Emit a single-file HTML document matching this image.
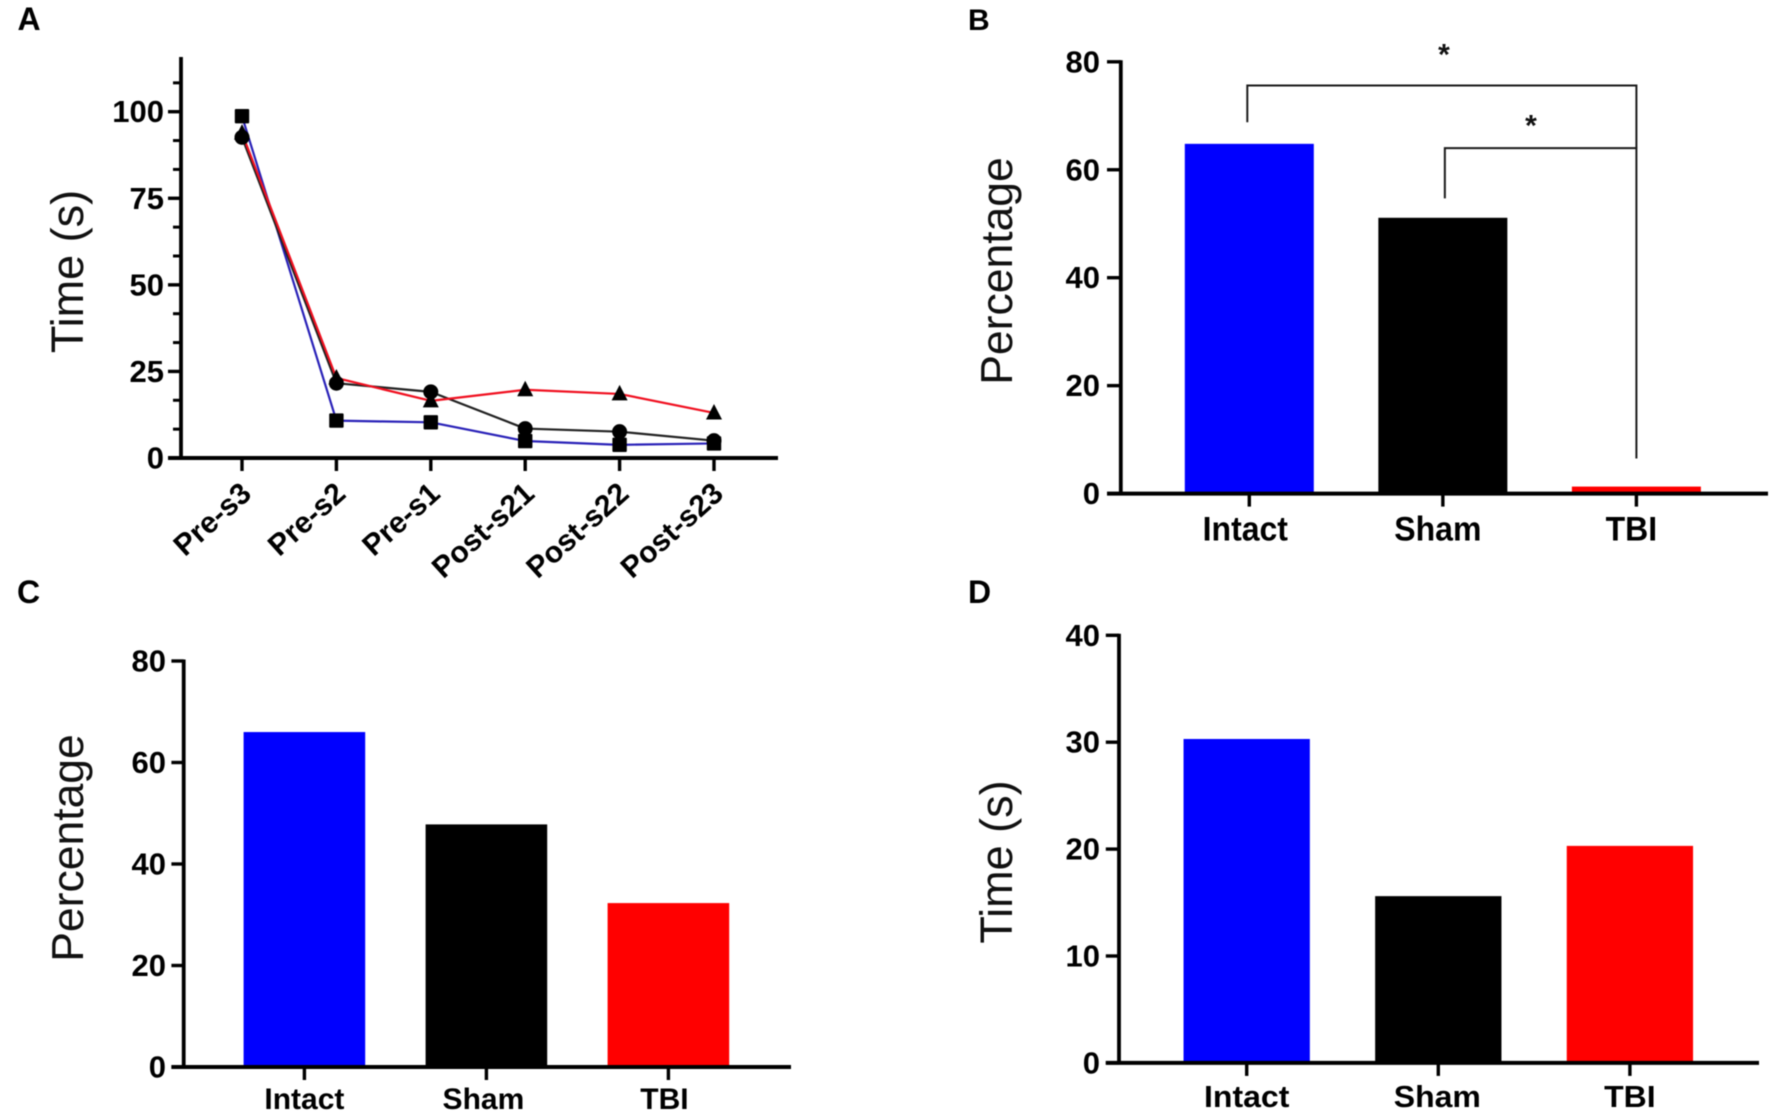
<!DOCTYPE html>
<html lang="en">
<head>
<meta charset="utf-8">
<title>Behavioral test results, panels A to D</title>
<style>
  html, body { margin: 0; padding: 0; background: #fff; }
  body { width: 1772px; height: 1115px; overflow: hidden; }
  svg { display: block; font-family: "Liberation Sans", sans-serif; filter: blur(0.4px); }
  .tick { font-weight: 700; font-size: 31px; fill: #000; }
  .title { font-weight: 400; font-size: 44.5px; fill: #111; }
  .time-title { font-weight: 400; font-size: 45px; fill: #111; }
  .letter { font-weight: 700; fill: #000; }
</style>
</head>
<body>
<svg id="figure" xmlns="http://www.w3.org/2000/svg" width="1772" height="1115" viewBox="0 0 1772 1115">
  <rect width="1772" height="1115" fill="#fff"/>
  <text class="letter" x="17.5" y="30" font-size="32">A</text>
  <text class="letter" x="968" y="30" font-size="30">B</text>
  <text class="letter" x="17" y="603" font-size="32">C</text>
  <text class="letter" x="968" y="603" font-size="32">D</text>
  <text class="time-title" text-anchor="middle" transform="translate(83 271.5) rotate(-90)">Time (s)</text>
  <text class="title" text-anchor="middle" transform="translate(1012 271) rotate(-90)">Percentage</text>
  <text class="title" text-anchor="middle" transform="translate(83 848) rotate(-90)">Percentage</text>
  <text class="time-title" text-anchor="middle" transform="translate(1012 862) rotate(-90)">Time (s)</text>
</svg>
<script>
// ---- Panel A data ----
const sessionLabels = ['Pre-s3', 'Pre-s2', 'Pre-s1', 'Post-s21', 'Post-s22', 'Post-s23'];
const intactTimes = [98.7, 10.8, 10.3, 4.9, 3.8, 4.2];
const shamTimes = [92.6, 21.6, 19.1, 8.5, 7.6, 5.0];
const tbiTimes = [93.8, 23.1, 16.5, 19.7, 18.5, 13.0];
const panelATicks = [0, 25, 50, 75, 100];
const panelAMinorTicks = [8.33, 16.67, 33.33, 41.67, 58.33, 66.67, 83.33, 91.67, 108.33];

// ---- Bar panels data ----
const groupLabels = ['Intact', 'Sham', 'TBI'];
const barColors = ['#0000ff', '#000000', '#ff0000'];
const panelBValues = [64.8, 51.1, 1.3];
const panelBTicks = [0, 20, 40, 60, 80];
const panelCValues = [66.0, 47.8, 32.3];
const panelCTicks = [0, 20, 40, 60, 80];
const panelDValues = [30.3, 15.6, 20.3];
const panelDTicks = [0, 10, 20, 30, 40];

const svg = document.getElementById('figure');
const NS = 'http://www.w3.org/2000/svg';

function make(tag, attrs, parent) {
  const el = document.createElementNS(NS, tag);
  for (const k in attrs) el.setAttribute(k, attrs[k]);
  (parent || svg).appendChild(el);
  return el;
}
function linearScale(v0, px0, v1, px1) {
  return v => px0 + (v - v0) * (px1 - px0) / (v1 - v0);
}
function bandScale(first, step) {
  return i => first + i * step;
}
function drawLine(parent, name, x1, y1, x2, y2, width, color) {
  const el = make('line', { x1, y1, x2, y2, stroke: color || '#000', 'stroke-width': width }, parent);
  
  
  return el;
}
function drawYAxis(parent, axisX, axisTopY, axisBottomY, tickLeftX, labelRightX, y, ticks, minorTicks) {
  drawLine(parent, 'y-axis-line', axisX, axisTopY, axisX, axisBottomY, 3.8);
  ticks.forEach(t => {
    drawLine(parent, 'y-axis-tick', tickLeftX, y(t), axisX, y(t), 3.4);
    const label = make('text', { class: 'tick', x: labelRightX, y: y(t) + 10.5, 'text-anchor': 'end' }, parent);
    
    
    label.textContent = t;
  });
  (minorTicks || []).forEach(t => {
    drawLine(parent, 'y-axis-minor-tick', tickLeftX + 5, y(t), axisX, y(t), 3);
  });
}
function drawXAxisLine(parent, x1, x2, axisY) {
  drawLine(parent, 'x-axis-line', x1, axisY, x2, axisY, 4);
}
function drawBarPanel(name, values, ticks, o) {
  const g = make('g', {});
  
  
  const y = linearScale(0, o.baseY, ticks[ticks.length - 1], o.topY);
  const x = bandScale(o.firstX, o.stepX);
  values.forEach((v, i) => {
    const bar = make('rect', {
      x: x(i) - o.barW / 2, y: y(v), width: o.barW, height: o.baseY - y(v), fill: barColors[i]
    }, g);
    
    
  });
  drawYAxis(g, o.axisX, o.topY - 1.5, o.baseY, o.tickLeftX, o.labelRightX, y, ticks);
  drawXAxisLine(g, o.tickLeftX, o.axisRight, o.baseY);
  groupLabels.forEach((c, i) => {
    drawLine(g, 'x-axis-tick', x(i), o.baseY, x(i), o.baseY + 13, 3.4);
    const label = make('text', {
      class: 'tick', 'text-anchor': 'middle',
      transform: 'translate(' + (x(i) + o.labelDx[i]) + ' ' + o.labelY + ') scale(1 ' + o.labelScaleY + ')'
    }, g);
    
    
    label.style.fontSize = o.labelSize + 'px';
    label.textContent = c;
  });
  return { g, x, y };
}

// ---- Panel A ----
const panelA = make('g', {});


const ax = bandScale(242, 94.4);
const ay = linearScale(0, 458, 100, 111.7);
drawYAxis(panelA, 181, 57, 458, 168, 164, ay, panelATicks, panelAMinorTicks);
drawXAxisLine(panelA, 168, 778, 458);
sessionLabels.forEach((c, i) => {
  drawLine(panelA, 'x-axis-tick', ax(i), 458, ax(i), 471, 3.4);
  const label = make('text', {
    class: 'tick', 'text-anchor': 'end',
    transform: 'translate(' + (ax(i) + 11) + ' 496) rotate(-42)'
  }, panelA);
  
  
  label.style.fontSize = '30px';
  label.textContent = c;
});
function points(values) {
  return values.map((v, i) => ax(i) + ',' + ay(v)).join(' ');
}
function drawSeriesLine(name, values, color) {
  const el = make('polyline', { points: points(values), fill: 'none', stroke: color, 'stroke-width': 2.2, 'stroke-linejoin': 'round' }, panelA);
  
  
}
drawSeriesLine('intact-line', intactTimes, '#2a22b8');
drawSeriesLine('sham-line', shamTimes, '#222');
drawSeriesLine('tbi-line', tbiTimes, '#f01020');
tbiTimes.forEach((v, i) => {
  const cx = ax(i), cy = ay(v);
  const el = make('polygon', { points: cx + ',' + (cy - 9) + ' ' + (cx + 8) + ',' + (cy + 6.5) + ' ' + (cx - 8) + ',' + (cy + 6.5), fill: '#000' }, panelA);
  
  
});
shamTimes.forEach((v, i) => {
  const el = make('circle', { cx: ax(i), cy: ay(v), r: 7.5, fill: '#000' }, panelA);
  
  
});
intactTimes.forEach((v, i) => {
  const el = make('rect', { x: ax(i) - 7.2, y: ay(v) - 7.2, width: 14.4, height: 14.4, rx: 1, fill: '#000' }, panelA);
  
  
});

// ---- Panel B ----
const panelB = drawBarPanel('panel-b-bar-chart', panelBValues, panelBTicks, {
  baseY: 493.6, topY: 61.8, firstX: 1249.3, stepX: 193.55, barW: 129,
  axisX: 1120.8, tickLeftX: 1107, labelRightX: 1100, axisRight: 1768,
  labelY: 540.5, labelDx: [-4, -5, -5], labelSize: 32, labelScaleY: 1.08
});
function drawBracket(parent, name, xLeft, xRight, yTop, yLeftEnd, yRightEnd) {
  const el = make('polyline', {
    points: xLeft + ',' + yLeftEnd + ' ' + xLeft + ',' + yTop + ' ' + xRight + ',' + yTop + ' ' + xRight + ',' + yRightEnd,
    fill: 'none', stroke: '#1a1a1a', 'stroke-width': 2
  }, parent);
  
  
}
drawBracket(panelB.g, 'significance-bracket-intact-tbi', panelB.x(0) - 2, panelB.x(2), panelB.y(75.6), panelB.y(68.8), panelB.y(64));
drawBracket(panelB.g, 'significance-bracket-sham-tbi', panelB.x(1) + 2, panelB.x(2), panelB.y(64), panelB.y(54.7), panelB.y(6.5));
const starTop = make('text', { x: 1444, y: 64.5, 'text-anchor': 'middle', 'font-weight': 700, 'font-size': 30, fill: '#111' }, panelB.g);


starTop.textContent = '*';
const starLow = make('text', { x: 1531, y: 135.5, 'text-anchor': 'middle', 'font-weight': 700, 'font-size': 30, fill: '#111' }, panelB.g);


starLow.textContent = '*';

// ---- Panel C ----
drawBarPanel('panel-c-bar-chart', panelCValues, panelCTicks, {
  baseY: 1067, topY: 661, firstX: 304.4, stepX: 182, barW: 121.6,
  axisX: 183.7, tickLeftX: 171.4, labelRightX: 166, axisRight: 791,
  labelY: 1109, labelDx: [0, -3, -4], labelSize: 30, labelScaleY: 1
});

// ---- Panel D ----
drawBarPanel('panel-d-bar-chart', panelDValues, panelDTicks, {
  baseY: 1062.9, topY: 635.3, firstX: 1246.7, stepX: 191.6, barW: 126.3,
  axisX: 1119, tickLeftX: 1105.8, labelRightX: 1100, axisRight: 1759,
  labelY: 1107, labelDx: [0, -1, 0], labelSize: 32, labelScaleY: 0.96
});
</script>
</body>
</html>
